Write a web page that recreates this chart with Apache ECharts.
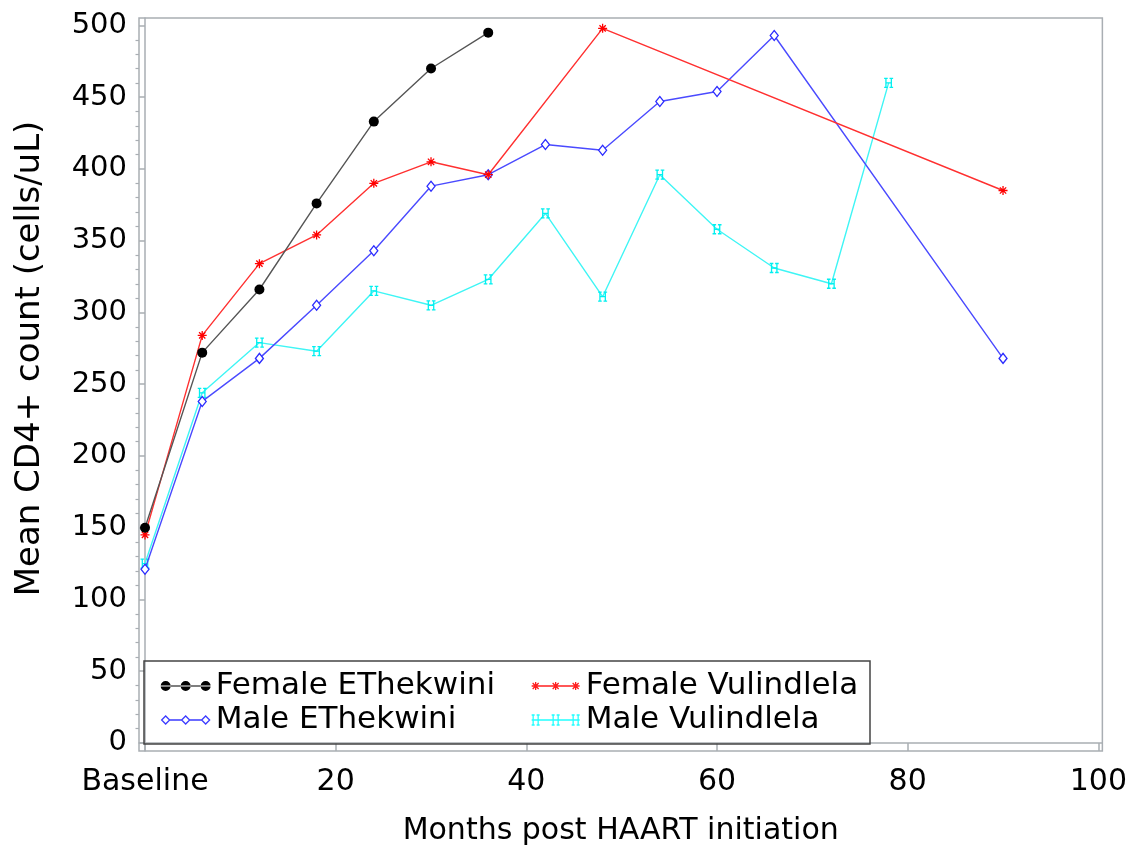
<!DOCTYPE html>
<html>
<head>
<meta charset="utf-8">
<script src="https://cdn.jsdelivr.net/npm/echarts@6/dist/echarts.min.js"></script>
<style>
html,body{margin:0;padding:0;background:#fff;}
#chart{width:1130px;height:851px;}
</style>
</head>
<body>
<div id="chart"></div>
<script>
// ---- data ----
const xTickValues = [0, 20, 40, 60, 80, 100];
const yTickValues = [0, 50, 100, 150, 200, 250, 300, 350, 400, 450, 500];
const yMinorTickValues = [10,20,30,40,60,70,80,90,110,120,130,140,160,170,180,190,210,220,230,240,260,270,280,290,310,320,330,340,360,370,380,390,410,420,430,440,460,470,480,490];

const femaleEThekwiniMonths = [0, 6, 12, 18, 24, 30, 36];
const femaleEThekwiniCD4 = [150, 272, 316, 376, 433, 470, 495];

const femaleVulindlelaMonths = [0, 6, 12, 18, 24, 30, 36, 48, 90];
const femaleVulindlelaCD4 = [145, 284, 334, 354, 390, 405, 396, 498, 385];

const maleEThekwiniMonths = [0, 6, 12, 18, 24, 30, 36, 42, 48, 54, 60, 66, 90];
const maleEThekwiniCD4 = [121, 238, 268, 305, 343, 388, 396, 417, 413, 447, 454, 493, 268];

const maleVulindlelaMonths = [0, 6, 12, 18, 24, 30, 36, 42, 48, 54, 60, 66, 72, 78];
const maleVulindlelaCD4 = [125, 244, 279, 273, 315, 305, 323, 369, 311, 396, 358, 331, 320, 460];

const seriesNames = ['Female EThekwini', 'Female Vulindlela', 'Male EThekwini', 'Male Vulindlela'];

// ---- build ----
function pairs(xs, ys) { return xs.map((x, i) => [x, ys[i]]); }

const FONT = 'DejaVu Sans';
const AXIS_GRAY = '#a9aeb3';

const starPath = 'path://M4 0L4 8M0 4L8 4M1.2 1.2L6.8 6.8M6.8 1.2L1.2 6.8';
const hPath = 'path://M0 0L4 0M2 0L2 10M0 10L4 10M6 0L10 0M8 0L8 10M6 10L10 10M2 5L8 5';

function hAt(cx) {
  return 'M' + (cx - 4) + ' 1L' + (cx - 1) + ' 1M' + (cx - 2.5) + ' 1L' + (cx - 2.5) + ' 11M' + (cx - 4) + ' 11L' + (cx - 1) + ' 11' +
         'M' + (cx + 1) + ' 1L' + (cx + 4) + ' 1M' + (cx + 2.5) + ' 1L' + (cx + 2.5) + ' 11M' + (cx + 1) + ' 11L' + (cx + 4) + ' 11';
}

const iconFE = 'path://M0 5.4L50 5.4L50 6.6L0 6.6Z M0 6a5 5 0 1 0 10 0a5 5 0 1 0 -10 0Z M20 6a5 5 0 1 0 10 0a5 5 0 1 0 -10 0Z M40 6a5 5 0 1 0 10 0a5 5 0 1 0 -10 0Z';
const iconFV = 'path://M0 0L0 0M50 12L50 12M1 6L49 6M5 2L5 10M1 6L9 6M2 3L8 9M8 3L2 9M25 2L25 10M21 6L29 6M22 3L28 9M28 3L22 9M45 2L45 10M41 6L49 6M42 3L48 9M48 3L42 9';
const iconME = 'path://M0 0L0 0M50 12L50 12M1 6L1.5 6M1 6L5 2L9 6L5 10Z M9 6L21 6M21 6L25 2L29 6L25 10Z M29 6L41 6M41 6L45 2L49 6L45 10Z';
const iconMV = 'path://M0 0L0 0M50 12L50 12M1 6L49 6' + hAt(5) + hAt(25) + hAt(45);

const chart = echarts.init(document.getElementById('chart'), null, {renderer: 'canvas'});

const option = {
  backgroundColor: '#ffffff',
  animation: false,
  grid: {
    left: 139, right: 25, top: 18, bottom: 100,
    show: true, borderColor: AXIS_GRAY, borderWidth: 1.5, backgroundColor: 'transparent'
  },
  xAxis: {
    type: 'value',
    min: -0.63, max: 100.42,
    name: 'Months post HAART initiation',
    nameLocation: 'middle',
    nameGap: 65,
    nameTextStyle: {fontFamily: FONT, fontSize: 30, color: '#000'},
    axisLine: {show: true, lineStyle: {color: AXIS_GRAY, width: 1.5}},
    axisTick: {show: true, length: 8, lineStyle: {color: AXIS_GRAY, width: 1.5}, customValues: xTickValues},
    axisLabel: {
      fontFamily: FONT, fontSize: 30, color: '#000', margin: 16,
      customValues: xTickValues,
      formatter: v => (v === 0 ? 'Baseline' : String(v))
    },
    splitLine: {show: false}
  },
  yAxis: [{
    type: 'value',
    min: -5.6, max: 505.2,
    name: 'Mean CD4+ count (cells/uL)',
    nameLocation: 'middle',
    nameGap: 92,
    nameTextStyle: {fontFamily: FONT, fontSize: 34, color: '#000', padding: [0, 0, 0, 52]},
    axisLine: {show: true, lineStyle: {color: AXIS_GRAY, width: 1.5}},
    axisTick: {show: true, length: 6, lineStyle: {color: AXIS_GRAY, width: 1.5}, customValues: yTickValues},
    axisLabel: {fontFamily: FONT, fontSize: 29, color: '#000', margin: 12, customValues: yTickValues},
    splitLine: {show: false}
  }, {
    type: 'value',
    position: 'left',
    min: -5.6, max: 505.2,
    axisLine: {show: false},
    axisTick: {show: true, length: 3.5, lineStyle: {color: AXIS_GRAY, width: 1.2}, customValues: yMinorTickValues},
    axisLabel: {show: false},
    splitLine: {show: false}
  }],
  legend: [{
    left: 155, top: 664, orient: 'vertical',
    itemWidth: 50, itemHeight: 12, itemGap: 0,
    textStyle: {fontFamily: FONT, fontSize: 31, color: '#000', lineHeight: 34, padding: [0, 0, 0, 0]},
    data: [
      {name: seriesNames[0], icon: iconFE, itemStyle: {color: '#000', borderWidth: 0}},
      {name: seriesNames[2], icon: iconME, itemStyle: {color: 'rgba(0,0,0,0)', borderColor: '#3b3bff', borderWidth: 1.3}}
    ]
  }, {
    left: 525, top: 664, orient: 'vertical',
    itemWidth: 50, itemHeight: 12, itemGap: 0,
    textStyle: {fontFamily: FONT, fontSize: 31, color: '#000', lineHeight: 34, padding: [0, 0, 0, 0]},
    data: [
      {name: seriesNames[1], icon: iconFV, itemStyle: {color: 'rgba(0,0,0,0)', borderColor: '#ff2020', borderWidth: 1.3}},
      {name: seriesNames[3], icon: iconMV, itemStyle: {color: 'rgba(0,0,0,0)', borderColor: '#22ffff', borderWidth: 1.3}}
    ]
  }],
  graphic: [{
    type: 'rect',
    shape: {x: 144, y: 661, width: 726, height: 83},
    style: {fill: 'rgba(0,0,0,0)', stroke: '#444', lineWidth: 1.5},
    z: 100
  }],
  series: [{
    name: seriesNames[0],
    type: 'line',
    data: pairs(femaleEThekwiniMonths, femaleEThekwiniCD4),
    symbol: 'circle', symbolSize: 10,
    itemStyle: {color: '#000'},
    lineStyle: {color: '#555', width: 1.4},
    z: 5
  }, {
    name: seriesNames[1],
    type: 'line',
    data: pairs(femaleVulindlelaMonths, femaleVulindlelaCD4),
    symbol: starPath, symbolSize: 9,
    itemStyle: {color: 'rgba(0,0,0,0)', borderColor: '#ff0000', borderWidth: 1.3},
    lineStyle: {color: '#ff3030', width: 1.4},
    z: 4
  }, {
    name: seriesNames[2],
    type: 'line',
    data: pairs(maleEThekwiniMonths, maleEThekwiniCD4),
    symbol: 'diamond', symbolSize: [8, 10],
    itemStyle: {color: '#ffffff', borderColor: '#2b2bff', borderWidth: 1.3},
    lineStyle: {color: '#4a4aff', width: 1.4},
    z: 3
  }, {
    name: seriesNames[3],
    type: 'line',
    data: pairs(maleVulindlelaMonths, maleVulindlelaCD4),
    symbol: hPath, symbolSize: [9, 9],
    itemStyle: {color: 'rgba(0,0,0,0)', borderColor: '#00f0f0', borderWidth: 1.3},
    lineStyle: {color: '#3ff5f5', width: 1.4},
    z: 2
  }]
};

chart.setOption(option);
</script>
</body>
</html>
